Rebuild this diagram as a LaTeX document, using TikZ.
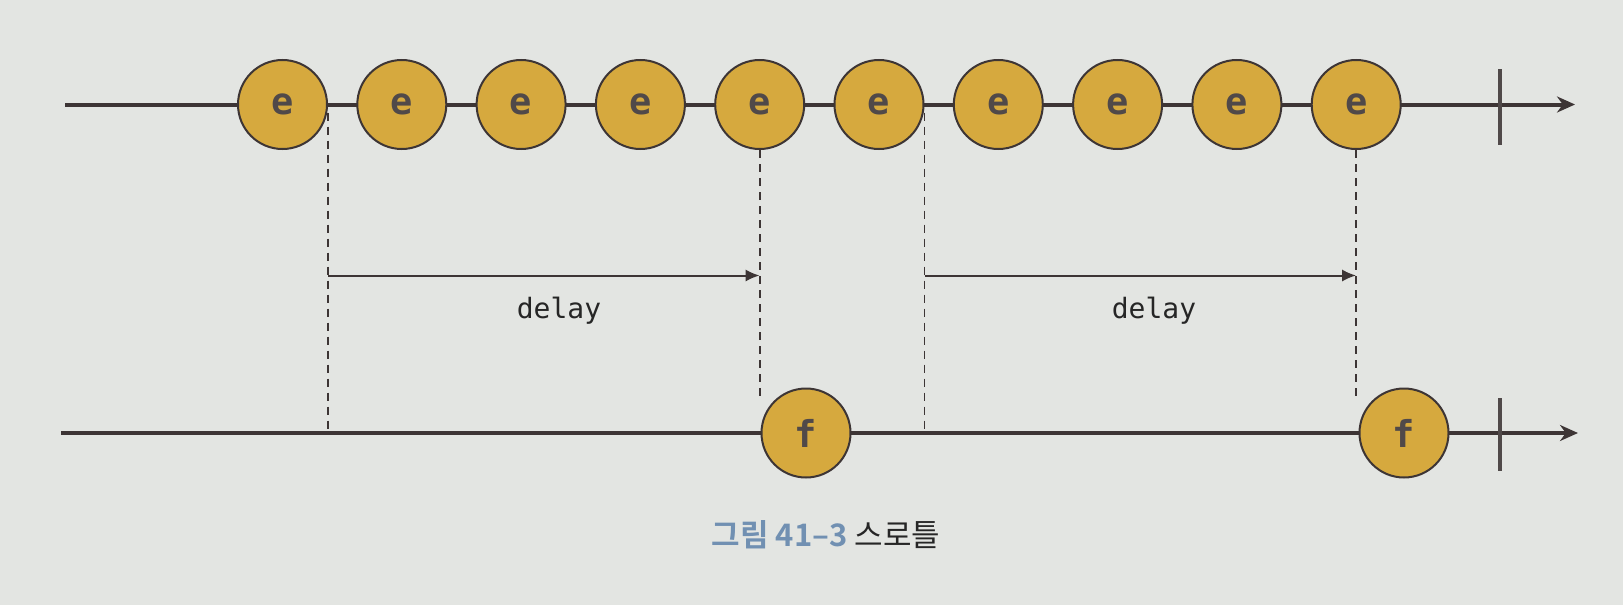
\documentclass[tikz,border=0pt]{standalone}
\usepackage{fontspec}
\newfontfamily\monofont{DejaVu Sans Mono}
\newfontfamily\evfont{DejaVu Sans Mono}
\newfontfamily\cjkbold[BoldFont={Noto Sans CJK KR Bold}]{Noto Sans CJK KR}
\usetikzlibrary{arrows.meta}
\definecolor{bg}{HTML}{E3E5E2}
\definecolor{gold}{HTML}{D6A93E}
\definecolor{ink}{HTML}{3D3535}
\definecolor{capblue}{HTML}{7190B2}
\tikzset{
  ev/.style={circle, draw=ink, line width=1pt, fill=gold, minimum size=89pt*0.5, inner sep=0pt,
    font=\evfont\bfseries\fontsize{18.5}{18.5}\selectfont, text=ink!90},
  axis/.style={draw=ink, line width=2pt, -{Stealth[length=9pt,width=8pt]}},
  tick/.style={draw=ink!90, line width=1.6pt},
  guide/.style={draw=ink, line width=0.8pt, dash pattern=on 4pt off 3pt},
  span/.style={draw=ink, line width=1pt, -{Latex[length=7pt,width=6pt]}},
  lbl/.style={font=\monofont\fontsize{14}{14}\selectfont, text=black!85}
}
\begin{document}
\begin{tikzpicture}[x=0.5pt,y=-0.5pt]
\fill[bg] (0,0) rectangle (1623,605);
\useasboundingbox (0,0) rectangle (1623,605);
% axes
\coordinate (t0) at (65,104.5);
\coordinate (t1) at (1575,104.5);
\coordinate (b0) at (61,433);
\coordinate (b1) at (1578,433);
\draw[axis] (t0) -- (t1);
\draw[axis] (b0) -- (b1);
\coordinate (tt0) at (1500,69);
\coordinate (tt1) at (1500,145);
\coordinate (bt0) at (1500,398);
\coordinate (bt1) at (1500,471);
\draw[tick] (tt0) -- (tt1);
\draw[tick] (bt0) -- (bt1);
% events
\foreach \i in {1,...,10}{
  \node[ev] (e\i) at ({282.5+(\i-1)*119.3},104.5) {e};
}
\node[ev] (f1) at (806,433) {f};
\node[ev] (f2) at (1404,433) {f};
% guides
\coordinate (g1b) at (e1.east |- b0);
\coordinate (g3b) at (e6.east |- b0);
\draw[guide] ([yshift=-4pt]e1.east) -- (g1b);
\draw[guide] (e5.south) -- (e5.south |- f1.north west);
\draw[guide] ([yshift=-4pt]e6.east) -- (g3b);
\draw[guide] (e10.south) -- (e10.south |- f2.north west);
% delay spans
\coordinate (d1a) at (e1.east |- 0,275.5);
\coordinate (d1b) at (e5.south |- 0,275.5);
\coordinate (d2a) at (e6.east |- 0,275.5);
\coordinate (d2b) at (e10.south |- 0,275.5);
\draw[span] (d1a) -- (d1b);
\draw[span] (d2a) -- (d2b);
\node[lbl] (l1) at (559,311) {delay};
\node[lbl] (l2) at (1154,311) {delay};
% caption
\node (cap) at (826,535) {\cjkbold\fontsize{15.5}{15.5}\selectfont{\bfseries\color{capblue}그림 41–3} \color{black!85}스로틀};
\end{tikzpicture}
\end{document}
